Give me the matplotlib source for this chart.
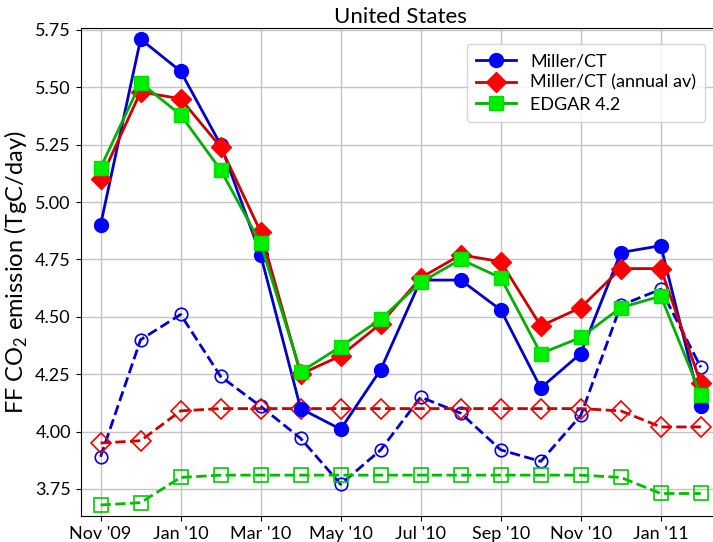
import numpy as np
import matplotlib
matplotlib.use('Agg')
import matplotlib.pyplot as plt

plt.rcParams['font.family'] = ['Lato', 'DejaVu Sans']
plt.rcParams['mathtext.fontset'] = 'custom'
plt.rcParams['mathtext.rm'] = 'Lato'

# monthly values, Nov 2009 .. Feb 2011
months = ["Nov '09", "Dec '09", "Jan '10", "Feb '10", "Mar '10", "Apr '10", "May '10", "Jun '10",
          "Jul '10", "Aug '10", "Sep '10", "Oct '10", "Nov '10", "Dec '10", "Jan '11", "Feb '11"]

miller_ct = [4.90, 5.71, 5.57, 5.25, 4.77, 4.10, 4.01, 4.27,
             4.66, 4.66, 4.53, 4.19, 4.34, 4.78, 4.81, 4.11]
miller_ct_annual = [5.10, 5.48, 5.45, 5.24, 4.87, 4.25, 4.33, 4.47,
                    4.67, 4.77, 4.74, 4.46, 4.54, 4.71, 4.71, 4.21]
edgar = [5.15, 5.52, 5.38, 5.14, 4.82, 4.26, 4.37, 4.49,
         4.65, 4.75, 4.67, 4.34, 4.41, 4.54, 4.59, 4.16]

# second set (dashed, open markers)
miller_ct_2 = [3.89, 4.40, 4.51, 4.24, 4.11, 3.97, 3.77, 3.92,
               4.15, 4.08, 3.92, 3.87, 4.07, 4.55, 4.62, 4.28]
miller_ct_annual_2 = [3.95, 3.96, 4.09, 4.10, 4.10, 4.10, 4.10, 4.10,
                      4.10, 4.10, 4.10, 4.10, 4.10, 4.09, 4.02, 4.02]
edgar_2 = [3.68, 3.69, 3.80, 3.81, 3.81, 3.81, 3.81, 3.81,
           3.81, 3.81, 3.81, 3.81, 3.81, 3.80, 3.73, 3.73]

x = np.arange(len(months))

fig = plt.figure(figsize=(7.13, 5.42), dpi=100)
# right edge of the axes runs slightly past the image (cropped original)
ax = fig.add_axes([0.113, 0.048, 0.898, 0.901])

# dashed series first so the solid ones sit on top
ax.plot(x, miller_ct_2, '--', color='#0000cc', lw=2, marker='o', ms=9,
        mfc='none', mec='#0000ee', mew=1.2)
ax.plot(x, miller_ct_annual_2, '--', color='#cc0000', lw=2, marker='D', ms=10,
        mfc='none', mec='#ee0000', mew=1.2)
ax.plot(x, edgar_2, '--', color='#00bb00', lw=2, marker='s', ms=9.5,
        mfc='none', mec='#00cc00', mew=1.2)

ax.plot(x, miller_ct, '-', color='#0000cc', lw=2, marker='o', ms=10,
        mfc='#0000ff', mec='#0000ff', label='Miller/CT')
ax.plot(x, miller_ct_annual, '-', color='#cc0000', lw=2, marker='D', ms=10.5,
        mfc='#ff0000', mec='#ff0000', label='Miller/CT (annual av)')
ax.plot(x, edgar, '-', color='#00b000', lw=2, marker='s', ms=10,
        mfc='#00ee00', mec='#00dd00', label='EDGAR 4.2')

ax.set_xlim(-0.5, 15.5)
ax.set_ylim(3.632, 5.76)
ax.set_xticks(x[::2])
ax.set_xticklabels(months[::2], fontsize=13)
ax.set_yticks([3.75, 4.00, 4.25, 4.50, 4.75, 5.00, 5.25, 5.50, 5.75])
ax.set_yticklabels(['%.2f' % v for v in ax.get_yticks()], fontsize=13)
ax.grid(True, color='#c4c4c4', lw=1)
ax.set_axisbelow(True)

ax.set_ylabel('FF CO$_2$ emission (TgC/day)', fontsize=17)
ax.set_title('United States', fontsize=16, pad=3)
ax.legend(loc='upper right', bbox_to_anchor=(0.99, 0.985), fontsize=13,
          handlelength=2.2, borderpad=0.5, labelspacing=0.32, framealpha=0.8)

fig.savefig('out.png', dpi=100)
